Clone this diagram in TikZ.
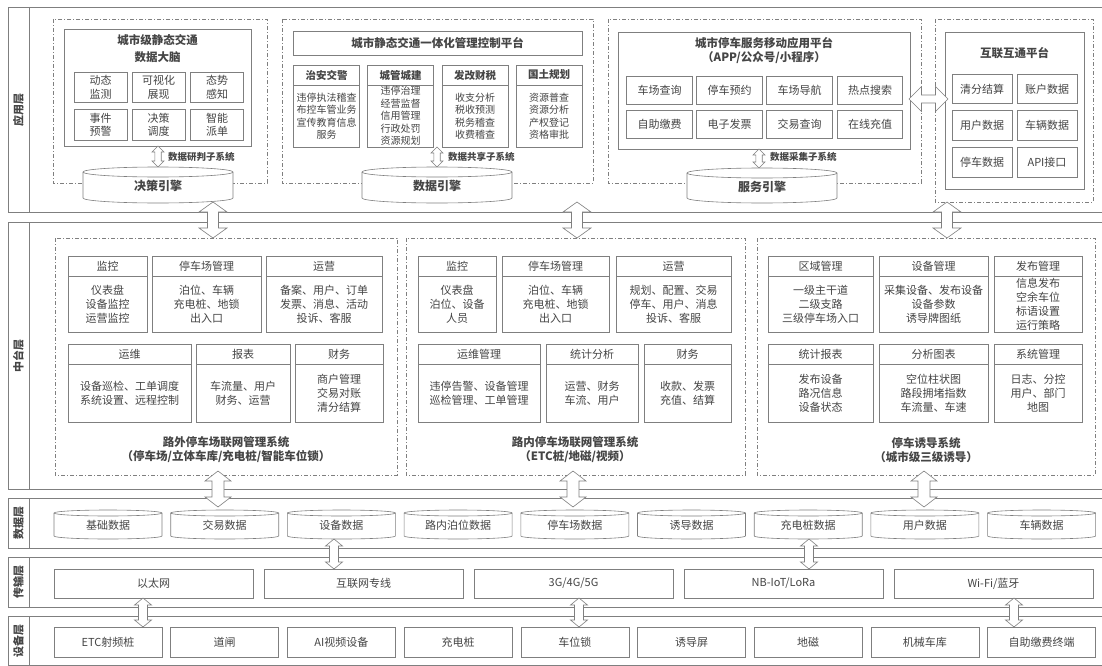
\documentclass[tikz,border=0pt]{standalone}
\usepackage{fontspec}
\setmainfont{Noto Sans CJK SC}
\usetikzlibrary{calc}

\definecolor{linegray}{HTML}{7F7F7F}
\definecolor{textgray}{HTML}{454545}

% hollow double arrow, vertical: top coord, bottom coord, half head, half shaft, head length
\newcommand\vfat[5]{\path[fat] let \p1=(#1), \p2=(#2) in (\x1,\y1) -- (\x1+#3,\y1-#5) -- (\x1+#4,\y1-#5) -- (\x1+#4,\y2+#5) -- (\x1+#3,\y2+#5) -- (\x1,\y2) -- (\x1-#3,\y2+#5) -- (\x1-#4,\y2+#5) -- (\x1-#4,\y1-#5) -- (\x1-#3,\y1-#5) -- cycle;}
% same, horizontal: left coord, right coord
\newcommand\hfat[5]{\path[fat] let \p1=(#1), \p2=(#2) in (\x1,\y1) -- (\x1+#5,\y1+#3) -- (\x1+#5,\y1+#4) -- (\x2-#5,\y1+#4) -- (\x2-#5,\y1+#3) -- (\x2,\y1) -- (\x2-#5,\y1-#3) -- (\x2-#5,\y1-#4) -- (\x1+#5,\y1-#4) -- (\x1+#5,\y1-#3) -- cycle;}
% database cylinder: [style] name, cx, cy, w, h, ry, text
\newcommand\dbcyl[8][]{%
  \path[cylpath] ({#3-#5/2},{#4-#6/2+#7}) -- ({#3-#5/2},{#4+#6/2-#7}) arc[start angle=180,end angle=360,x radius=#5*0.5pt,y radius=#7*1pt] -- ({#3+#5/2},{#4-#6/2+#7}) arc[start angle=0,end angle=180,x radius=#5*0.5pt,y radius=#7*1pt] -- cycle;
  \draw[cylline] ({#3-#5/2},{#4-#6/2+#7}) arc[start angle=180,end angle=360,x radius=#5*0.5pt,y radius=#7*1pt];
  \node[cyltext,#1] (#2) at (#3,{#4+1}) {#8};}

\begin{document}
\begin{tikzpicture}[x=1pt,y=-1pt,
  every node/.style={text=textgray, inner sep=0pt},
  layerbox/.style={draw=linegray, line width=0.8pt},
  layername/.style={font=\bfseries\fontsize{11}{13}\selectfont, rotate=90},
  groupbox/.style={draw=linegray, line width=0.6pt, dash pattern=on 4pt off 2pt on 1pt off 2pt},
  cell/.style={draw=linegray, fill=white, line width=0.6pt, align=center, font=\fontsize{11}{14}\selectfont},
  cellhead/.style={cell, font=\bfseries\fontsize{10.5}{12}\selectfont},
  grouptitle/.style={align=center, font=\bfseries\fontsize{11.5}{14}\selectfont},
  sublabel/.style={anchor=west, font=\bfseries\fontsize{9.5}{11}\selectfont},
  fat/.style={draw=linegray, fill=white, line width=0.6pt},
  cylpath/.style={draw=linegray, fill=white, line width=0.6pt},
  cylline/.style={draw=linegray, line width=0.6pt},
  cyltext/.style={font=\fontsize{11}{13}\selectfont},
]
\useasboundingbox (0,0) rectangle (1102,666);

% layers (open to the right edge)
\foreach \ya/\yb/\lname [count=\i] in {7/212/应用层,222/489/中台层,498/548/数据层,557/607/传输层,616/665/设备层}{
  \draw[layerbox] (1106,\ya) -- (8,\ya) -- (8,\yb) -- (1106,\yb) (29,\ya) -- (29,\yb);
  \node[layername] (layer\i) at (18.5,{(\ya+\yb)/2}) {\lname};
}

% ---- application layer ----
% data brain
\draw[groupbox] (53,19) rectangle (267,183);
\node[cell, minimum width=187pt, minimum height=117pt] (brain) at (157.5,87.5) {};
\node[grouptitle, font=\bfseries\fontsize{11.5}{17}\selectfont] (brainT) at (157.5,48.5) {城市级静态交通\\数据大脑};
\foreach \cx/\cy/\t [count=\i] in {100.5/87.5/动态\\监测, 158.5/87.5/可视化\\展现, 217/87.5/态势\\感知,
    100.5/125/事件\\预警, 158.5/125/决策\\调度, 217/125/智能\\派单}
  \node[cell, minimum width=53pt, minimum height=30.5pt, font=\fontsize{11}{13.5}\selectfont] (bf\i) at (\cx,\cy) {\t};
\coordinate (ba1) at (158,146);
\coordinate (ba2) at (158,167);
\vfat{ba1}{ba2}{6pt}{3.2pt}{6pt}
\node[sublabel] (bl) at (168,157) {数据研判子系统};
\dbcyl[font=\bfseries\fontsize{12}{13}\selectfont]{eng1}{158}{185}{150}{36}{5}{决策引擎}

% control platform
\draw[groupbox] (282,19) rectangle (593,183);
\node[cell, minimum width=289pt, minimum height=24pt, font=\bfseries\fontsize{11.5}{14}\selectfont] (ctrl) at (437.5,43) {城市静态交通一体化管理控制平台};
\foreach \cx/\h/\b [count=\i] in {326.5/治安交警/违停执法稽查\\布控车管业务\\宣传教育信息\\服务,
    400.5/城管城建/违停治理\\经营监督\\信用管理\\行政处罚\\资源规划,
    475/发改财税/收支分析\\税收预测\\税务稽查\\收费稽查,
    549/国土规划/资源普查\\资源分析\\产权登记\\资格审批}{
  \node[cellhead, minimum width=66pt, minimum height=20pt] (ch\i) at (\cx,75) {\h};
  \node[cell, minimum width=66pt, minimum height=62pt, font=\fontsize{10}{12.5}\selectfont] (cb\i) at (\cx,116) {\b};
}
\coordinate (ca1) at (437,147);
\coordinate (ca2) at (437,167);
\vfat{ca1}{ca2}{6pt}{3.2pt}{6pt}
\node[sublabel] (cl) at (448,157) {数据共享子系统};
\dbcyl[font=\bfseries\fontsize{12}{13}\selectfont]{eng2}{437}{185}{150}{36}{5}{数据引擎}

% mobile platform
\draw[groupbox] (608,19) rectangle (921,183);
\node[cell, minimum width=292pt, minimum height=117pt] (mob) at (764,90.5) {};
\node[grouptitle] (mobT) at (764,50) {城市停车服务移动应用平台\\（APP/公众号/小程序）};
\foreach \cx/\cy/\t [count=\i] in {659.5/90/车场查询, 729.5/90/停车预约, 799.5/90/车场导航, 870/90/热点搜索,
    659.5/124/自助缴费, 729.5/124/电子发票, 799.5/124/交易查询, 870/124/在线充值}
  \node[cell, minimum width=65.5pt, minimum height=28pt] (mf\i) at (\cx,\cy) {\t};
\coordinate (ma1) at (759,149);
\coordinate (ma2) at (759,168);
\vfat{ma1}{ma2}{6pt}{3.2pt}{6pt}
\node[sublabel] (ml) at (770,157) {数据采集子系统};
\dbcyl[font=\bfseries\fontsize{12}{13}\selectfont]{eng3}{762}{185.5}{150}{35}{5}{服务引擎}

% interconnection platform
\draw[groupbox] (935,19) rectangle (1093,202);
\node[cell, minimum width=139pt, minimum height=157pt] (hub) at (1014.5,110.5) {};
\node[grouptitle] (hubT) at (1014.5,53) {互联互通平台};
\foreach \cx/\cy/\t [count=\i] in {982/89/清分结算, 1047/89/账户数据, 982/125.5/用户数据, 1047/125.5/车辆数据,
    982/162.5/停车数据, 1047/162.5/API接口}
  \node[cell, minimum width=60pt, minimum height=29.5pt] (hf\i) at (\cx,\cy) {\t};
\coordinate (ha1) at (909,99);
\coordinate (ha2) at (948,99);
\hfat{ha1}{ha2}{12.5pt}{4pt}{12.5pt}

% app <-> middle
\foreach \px in {213,577,947}{
  \coordinate (ua\px) at (\px,202);
  \coordinate (ub\px) at (\px,238);
  \vfat{ua\px}{ub\px}{14pt}{5.5pt}{10pt}
}

% ---- middle layer ----
\draw[groupbox] (55,238) rectangle (397,475);
\draw[groupbox] (406,238) rectangle (745,475);
\draw[groupbox] (757,238) rectangle (1095,475);
\foreach \cx/\w/\h/\b [count=\i] in {107.5/79/监控/仪表盘\\设备监控\\运营监控,
    206.5/109/停车场管理/泊位、车辆\\充电桩、地锁\\出入口,
    324/116/运营/备案、用户、订单\\发票、消息、活动\\投诉、客服,
    457/78/监控/仪表盘\\泊位、设备\\人员,
    555.5/107/停车场管理/泊位、车辆\\充电桩、地锁\\出入口,
    673.5/115/运营/规划、配置、交易\\停车、用户、消息\\投诉、客服,
    820.5/105/区域管理/一级主干道\\二级支路\\三级停车场入口,
    933.5/109/设备管理/采集设备、发布设备\\设备参数\\诱导牌图纸,
    1038/88/发布管理/信息发布\\空余车位\\标语设置\\运行策略}{
  \node[cell, minimum width=\w pt, minimum height=20pt] (mh\i) at (\cx,266) {\h};
  \node[cell, minimum width=\w pt, minimum height=56pt] (mb\i) at (\cx,304) {\b};
}
\foreach \cx/\w/\h/\b [count=\i] in {129.5/123/运维/设备巡检、工单调度\\系统设置、远程控制,
    243/94/报表/车流量、用户\\财务、运营,
    339/88/财务/商户管理\\交易对账\\清分结算,
    479/122/运维管理/违停告警、设备管理\\巡检管理、工单管理,
    592/92/统计分析/运营、财务\\车流、用户,
    687.5/87/财务/收款、发票\\充值、结算,
    820.5/105/统计报表/发布设备\\路况信息\\设备状态,
    933.5/109/分析图表/空位柱状图\\路段拥堵指数\\车流量、车速,
    1038/88/系统管理/日志、分控\\用户、部门\\地图}{
  \node[cell, minimum width=\w pt, minimum height=20pt] (nh\i) at (\cx,354) {\h};
  \node[cell, minimum width=\w pt, minimum height=58pt] (nb\i) at (\cx,393) {\b};
}
\node[grouptitle] (offT) at (226,450) {路外停车场联网管理系统\\（停车场/立体车库/充电桩/智能车位锁）};
\node[grouptitle] (onT) at (575,450) {路内停车场联网管理系统\\（ETC桩/地磁/视频）};
\node[grouptitle] (guideT) at (926,450) {停车诱导系统\\（城市级三级诱导）};

% middle <-> data
\foreach \px in {218,573,924}{
  \coordinate (da\px) at (\px,471);
  \coordinate (db\px) at (\px,507);
  \vfat{da\px}{db\px}{13pt}{6pt}{10pt}
}

% ---- data layer ----
\foreach \t [count=\i from 0] in {基础数据,交易数据,设备数据,路内泊位数据,停车场数据,诱导数据,充电桩数据,用户数据,车辆数据}{
  \dbcyl{data\i}{108+\i*116.7}{524.5}{108}{29}{3}{\t}
}

% data <-> transport
\foreach \px in {334,809}{
  \coordinate (ta\px) at (\px,539);
  \coordinate (tb\px) at (\px,569);
  \vfat{ta\px}{tb\px}{8.5pt}{4.5pt}{7pt}
}

% ---- transport layer ----
\foreach \t [count=\i from 0] in {以太网,互联网专线,{3G/4G/5G},{NB-IoT/LoRa},{Wi-Fi/蓝牙}}
  \node[cell, minimum width=199pt, minimum height=29pt] (net\i) at ({153.5+\i*210},583.5) {\t};

% transport <-> device
\foreach \px in {143,579,1014}{
  \coordinate (ea\px) at (\px,598);
  \coordinate (eb\px) at (\px,627);
  \vfat{ea\px}{eb\px}{8.5pt}{4.5pt}{7pt}
}

% ---- device layer ----
\foreach \t [count=\i from 0] in {ETC射频桩,道闸,AI视频设备,充电桩,车位锁,诱导屏,地磁,机械车库,自助缴费终端}
  \node[cell, minimum width=108pt, minimum height=30pt] (dev\i) at ({108+\i*116.7},642) {\t};

\end{tikzpicture}
\end{document}
